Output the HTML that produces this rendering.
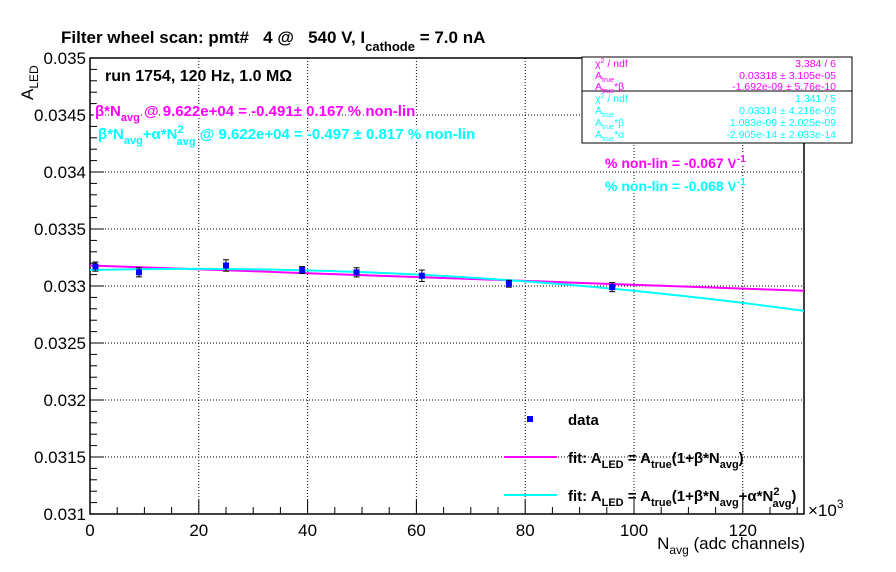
<!DOCTYPE html>
<html><head><meta charset="utf-8"><style>
body{margin:0;background:#fff}
svg{display:block;font-family:"Liberation Sans",sans-serif}
text{white-space:pre}
.b{font-weight:bold}
.h{paint-order:stroke;stroke:#fff;stroke-width:4px;stroke-linejoin:round}
</style></head><body>
<svg id="c" width="896" height="572" viewBox="0 0 896 572">
<rect width="896" height="572" fill="#fff"/>
<g id="grid"></g>
<g id="axes"></g>
<g id="fits"></g>
<g id="pts"></g>
<text x="61" y="43" font-size="17" class="b">Filter wheel scan: pmt#   4 @   540 V, I<tspan font-size="13" dy="8">cathode</tspan><tspan dy="-8"> = 7.0 nA</tspan></text>
<text transform="translate(33,100) rotate(-90)" font-size="17">A<tspan font-size="12" dy="5">LED</tspan></text>
<text x="805" y="549" font-size="17" text-anchor="end">N<tspan font-size="12" dy="5">avg</tspan><tspan dy="-5"> (adc channels)</tspan></text>
<text x="808" y="516" font-size="17">×10<tspan font-size="12" dy="-8">3</tspan></text>
<text x="105" y="81" font-size="16" class="b h">run 1754, 120 Hz, 1.0 MΩ</text>
<text x="95" y="116" font-size="15" class="b h" fill="#ff00ff">β*N<tspan font-size="11" dy="5">avg</tspan><tspan dy="-5"> @ 9.622e+04 = -0.491± 0.167 % non-lin</tspan></text>
<text x="98" y="139" font-size="15" class="b h" fill="#00ffff">β*N<tspan font-size="11" dy="5">avg</tspan><tspan dy="-5">+α*N</tspan><tspan font-size="11" dy="-6">2</tspan><tspan font-size="11" dx="-7" dy="12">avg</tspan><tspan dy="-6"> @ 9.622e+04 = -0.497 ± 0.817 % non-lin</tspan></text>
<text x="605" y="168" font-size="14" class="b h" fill="#ff00ff">% non-lin = -0.067 V<tspan font-size="10" dy="-6">-1</tspan></text>
<text x="605" y="191" font-size="14" class="b h" fill="#00ffff">% non-lin = -0.068 V<tspan font-size="10" dy="-6">-1</tspan></text>
<g font-size="10.5">
<rect x="582" y="57" width="270" height="86" fill="#fff" stroke="#000" stroke-width="1"/>
<line x1="582" y1="91" x2="852" y2="91" stroke="#000"/>
<g fill="#ff00ff"><text x="595" y="67">χ<tspan font-size="7" dy="-4">2</tspan><tspan dy="4"> / ndf</tspan></text><text x="836" y="67" text-anchor="end">3.384 / 6</text>
<text x="595" y="79">A<tspan font-size="7" dy="3">true</tspan></text><text x="836" y="79" text-anchor="end">0.03318 ± 3.105e-05</text>
<text x="595" y="90">A<tspan font-size="7" dy="3">true</tspan><tspan dy="-3">*β</tspan></text><text x="836" y="90" text-anchor="end">-1.692e-09 ± 5.76e-10</text></g>
<g fill="#00ffff"><text x="595" y="102">χ<tspan font-size="7" dy="-4">2</tspan><tspan dy="4"> / ndf</tspan></text><text x="836" y="102" text-anchor="end">1.341 / 5</text>
<text x="595" y="114">A<tspan font-size="7" dy="3">true</tspan></text><text x="836" y="114" text-anchor="end">0.03314 ± 4.216e-05</text>
<text x="595" y="126">A<tspan font-size="7" dy="3">true</tspan><tspan dy="-3">*β</tspan></text><text x="836" y="126" text-anchor="end">1.083e-09 ± 2.025e-09</text>
<text x="595" y="138">A<tspan font-size="7" dy="3">true</tspan><tspan dy="-3">*α</tspan></text><text x="836" y="138" text-anchor="end">-2.905e-14 ± 2.033e-14</text></g>
</g>
<g>
<rect x="527" y="416" width="6" height="6" fill="#0000ff"/>
<text x="568" y="425" font-size="15" class="b">data</text>
<line x1="504" y1="457" x2="557" y2="457" stroke="#ff00ff" stroke-width="2"/>
<text x="568" y="463" font-size="15" class="b">fit: A<tspan font-size="11" dy="5">LED</tspan><tspan dy="-5"> = A</tspan><tspan font-size="11" dy="5">true</tspan><tspan dy="-5">(1+β*N</tspan><tspan font-size="11" dy="5">avg</tspan><tspan dy="-5">)</tspan></text>
<line x1="504" y1="495" x2="557" y2="495" stroke="#00ffff" stroke-width="2"/>
<text x="568" y="501" font-size="15" class="b">fit: A<tspan font-size="11" dy="5">LED</tspan><tspan dy="-5"> = A</tspan><tspan font-size="11" dy="5">true</tspan><tspan dy="-5">(1+β*N</tspan><tspan font-size="11" dy="5">avg</tspan><tspan dy="-5">+α*N</tspan><tspan font-size="11" dy="-6">2</tspan><tspan font-size="11" dx="-7" dy="12">avg</tspan><tspan dy="-6">)</tspan></text>
</g>
</svg>
<script>
const xData=[1,9,25,39,49,61,77,96];
const yData=[0.03317,0.03312,0.03318,0.03314,0.03312,0.03309,0.03302,0.03299];
const yErr=[0.00004,0.00004,0.00005,0.00003,0.00004,0.00005,0.00003,0.00004];
const linA=0.03318, linAB=-1.692e-9;
const quadA=0.03314, quadAB=1.083e-9, quadAA=-2.905e-14;
const xTicks=[0,20,40,60,80,100,120];
const yTicks=[0.031,0.0315,0.032,0.0325,0.033,0.0335,0.034,0.0345,0.035];
const yTickLabels=["0.031","0.0315","0.032","0.0325","0.033","0.0335","0.034","0.0345","0.035"];
const L=90,R=804,T=58,B=514,XMAX=131.25,YMIN=0.031,YMAX=0.035;
const sx=v=>L+v/XMAX*(R-L), sy=v=>B-(v-YMIN)/(YMAX-YMIN)*(B-T);
const NS='http://www.w3.org/2000/svg';
function mk(p,t,a){const e=document.createElementNS(NS,t);for(const k in a)e.setAttribute(k,a[k]);document.getElementById(p).appendChild(e);return e;}
xTicks.forEach(v=>{if(v>0){const g=mk('grid','line',{x1:sx(v),y1:T,x2:sx(v),y2:B,stroke:'#000','stroke-dasharray':'1,2'});

}});
yTicks.forEach(v=>{if(v>YMIN&&v<YMAX){const g=mk('grid','line',{x1:L,y1:sy(v),x2:R,y2:sy(v),stroke:'#000','stroke-dasharray':'1,2'});

}});
const fr=mk('axes','rect',{x:L,y:T,width:R-L,height:B-T,fill:'none',stroke:'#000','stroke-width':1.5});


for(let v=0;v<=XMAX;v+=5){const maj=v%20===0;mk('axes','line',{x1:sx(v),y1:B,x2:sx(v),y2:B-(maj?14:7),stroke:'#000'});}
xTicks.forEach(v=>{const t=mk('axes','text',{x:sx(v),y:B+22,'font-size':17,'text-anchor':'middle'});t.textContent=v;

});
for(let i=0;i<=40;i++){const v=YMIN+i*0.0001;const maj=i%5===0;mk('axes','line',{x1:L,y1:sy(v),x2:L+(maj?14:7),y2:sy(v),stroke:'#000'});}
yTicks.forEach((v,i)=>{const t=mk('axes','text',{x:L-4,y:sy(v)+6,'font-size':17,'text-anchor':'end'});t.textContent=yTickLabels[i];

});
let p1=[],p2=[];
for(let i=0;i<=100;i++){const x=i/100*XMAX,N=x*1000;
p1.push(sx(x)+','+sy(linA+linAB*N));p2.push(sx(x)+','+sy(quadA+quadAB*N+quadAA*N*N));}
const l1=mk('fits','polyline',{points:p1.join(' '),fill:'none',stroke:'#ff00ff','stroke-width':2});


const l2=mk('fits','polyline',{points:p2.join(' '),fill:'none',stroke:'#00ffff','stroke-width':2});


xData.forEach((x,i)=>{const X=sx(x),y0=sy(yData[i]-yErr[i]),y1=sy(yData[i]+yErr[i]);
mk('pts','line',{x1:X,y1:y0,x2:X,y2:y1,stroke:'#000'});
mk('pts','line',{x1:X-3,y1:y0,x2:X+3,y2:y0,stroke:'#000'});
mk('pts','line',{x1:X-3,y1:y1,x2:X+3,y2:y1,stroke:'#000'});
const r=mk('pts','rect',{x:X-3,y:sy(yData[i])-3,width:6,height:6,fill:'#0000ff'});

});
</script>
</body></html>
